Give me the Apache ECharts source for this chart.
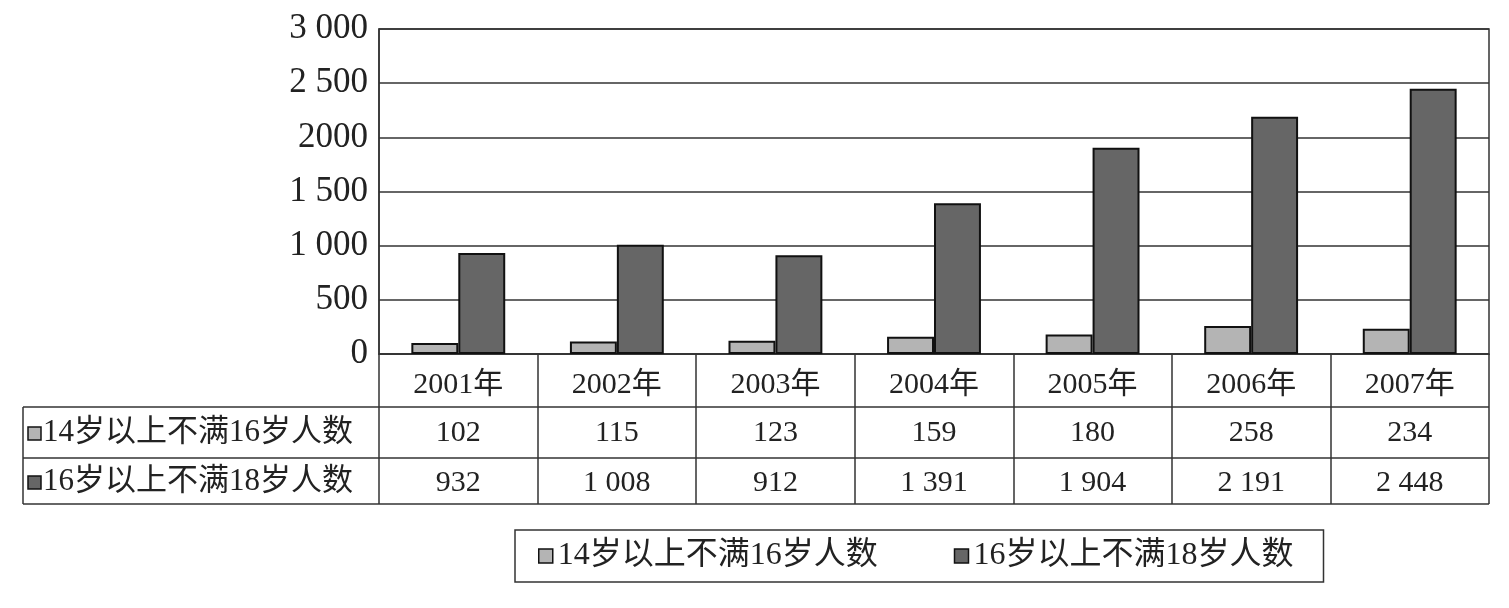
<!DOCTYPE html>
<html><head><meta charset="utf-8">
<script src="https://cdn.jsdelivr.net/npm/echarts@6/dist/echarts.min.js"></script>
<style>html,body{margin:0;padding:0;background:#fff}#c{width:1509px;height:608px}</style>
</head><body><div id="c"></div>
<script>
const categories = ['2001年','2002年','2003年','2004年','2005年','2006年','2007年'];
const seriesNames = ['14岁以上不满16岁人数','16岁以上不满18岁人数'];
const age14to16 = [102,115,123,159,180,258,234];
const age16to18 = [932,1008,912,1391,1904,2191,2448];
const yTickLabels = {0:'0',500:'500',1000:'1 000',1500:'1 500',2000:'2000',2500:'2 500',3000:'3 000'};
const colors = ['#b4b4b4','#666666'];

function fmt(v){ const s=String(v); return s.length>3 ? s.slice(0,s.length-3)+' '+s.slice(-3) : s; }

const serif = 'Liberation Serif, "Times New Roman", "Noto Sans CJK SC", serif';
const chart = echarts.init(document.getElementById('c'));
const L=379, R=1489, T=29, B=354;
const lineStyle = {stroke:'#333', lineWidth:1.5};
const gfx = [];
[407,458,504].forEach(y=>gfx.push({type:'line',shape:{x1:23,y1:y,x2:R,y2:y},style:lineStyle}));
gfx.push({type:'line',shape:{x1:23,y1:407,x2:23,y2:504},style:lineStyle});
[[seriesNames[0],433,colors[0]],[seriesNames[1],482,colors[1]]].forEach(([t,y,c])=>{
  gfx.push({type:'rect',shape:{x:28,y:y-6,width:13,height:13},style:{fill:c,stroke:'#111',lineWidth:1.5}});
  gfx.push({type:'text',x:43,y:y,style:{text:t,font:'31px '+serif,fill:'#222',textVerticalAlign:'middle'}});
});

const option = {
  animation:false,
  backgroundColor:'#fff',
  grid:{left:L,right:1509-R,top:T,bottom:608-B,show:true,borderColor:'#333',borderWidth:1.5},
  legend:{
    left:515, top:530, data:seriesNames, orient:'horizontal',
    borderColor:'#333', borderWidth:1.5, padding:[10,30,10,23], itemGap:76,
    itemWidth:14, itemHeight:14, icon:'rect',
    itemStyle:{borderColor:'#111',borderWidth:1.5},
    textStyle:{fontFamily:serif,fontSize:32,color:'#222'}
  },
  xAxis:[
    {type:'category',data:categories,position:'bottom',
     axisLine:{show:true,lineStyle:{color:'#333',width:1.5}},
     axisTick:{show:true,interval:0,length:150,lineStyle:{color:'#333',width:1.5}},
     axisLabel:{interval:0,margin:16,fontFamily:serif,fontSize:30,color:'#222'}},
    {type:'category',data:categories,position:'bottom',offset:51,
     axisLine:{show:false},axisTick:{show:false},
     axisLabel:{interval:0,margin:13,fontFamily:serif,fontSize:30,color:'#222',
       formatter:(v,i)=>fmt(age14to16[i])}},
    {type:'category',data:categories,position:'bottom',offset:101,
     axisLine:{show:false},axisTick:{show:false},
     axisLabel:{interval:0,margin:13,fontFamily:serif,fontSize:30,color:'#222',
       formatter:(v,i)=>fmt(age16to18[i])}}
  ],
  yAxis:{type:'value',min:0,max:3000,interval:500,
    axisLine:{show:true,lineStyle:{color:'#333',width:1.5}},axisTick:{show:false},
    splitLine:{lineStyle:{color:'#333',width:1.5}},
    axisLabel:{margin:11,fontFamily:serif,fontSize:35,color:'#222',formatter:v=>yTickLabels[v]}},
  series:[
    {name:seriesNames[0],type:'bar',data:age14to16,barWidth:'29.6%',barGap:'0%',
     itemStyle:{color:colors[0],borderColor:'#111',borderWidth:2}},
    {name:seriesNames[1],type:'bar',data:age16to18,barWidth:'29.6%',barGap:'0%',
     itemStyle:{color:colors[1],borderColor:'#111',borderWidth:2}}
  ],
  graphic:gfx
};
chart.setOption(option);
</script></body></html>
